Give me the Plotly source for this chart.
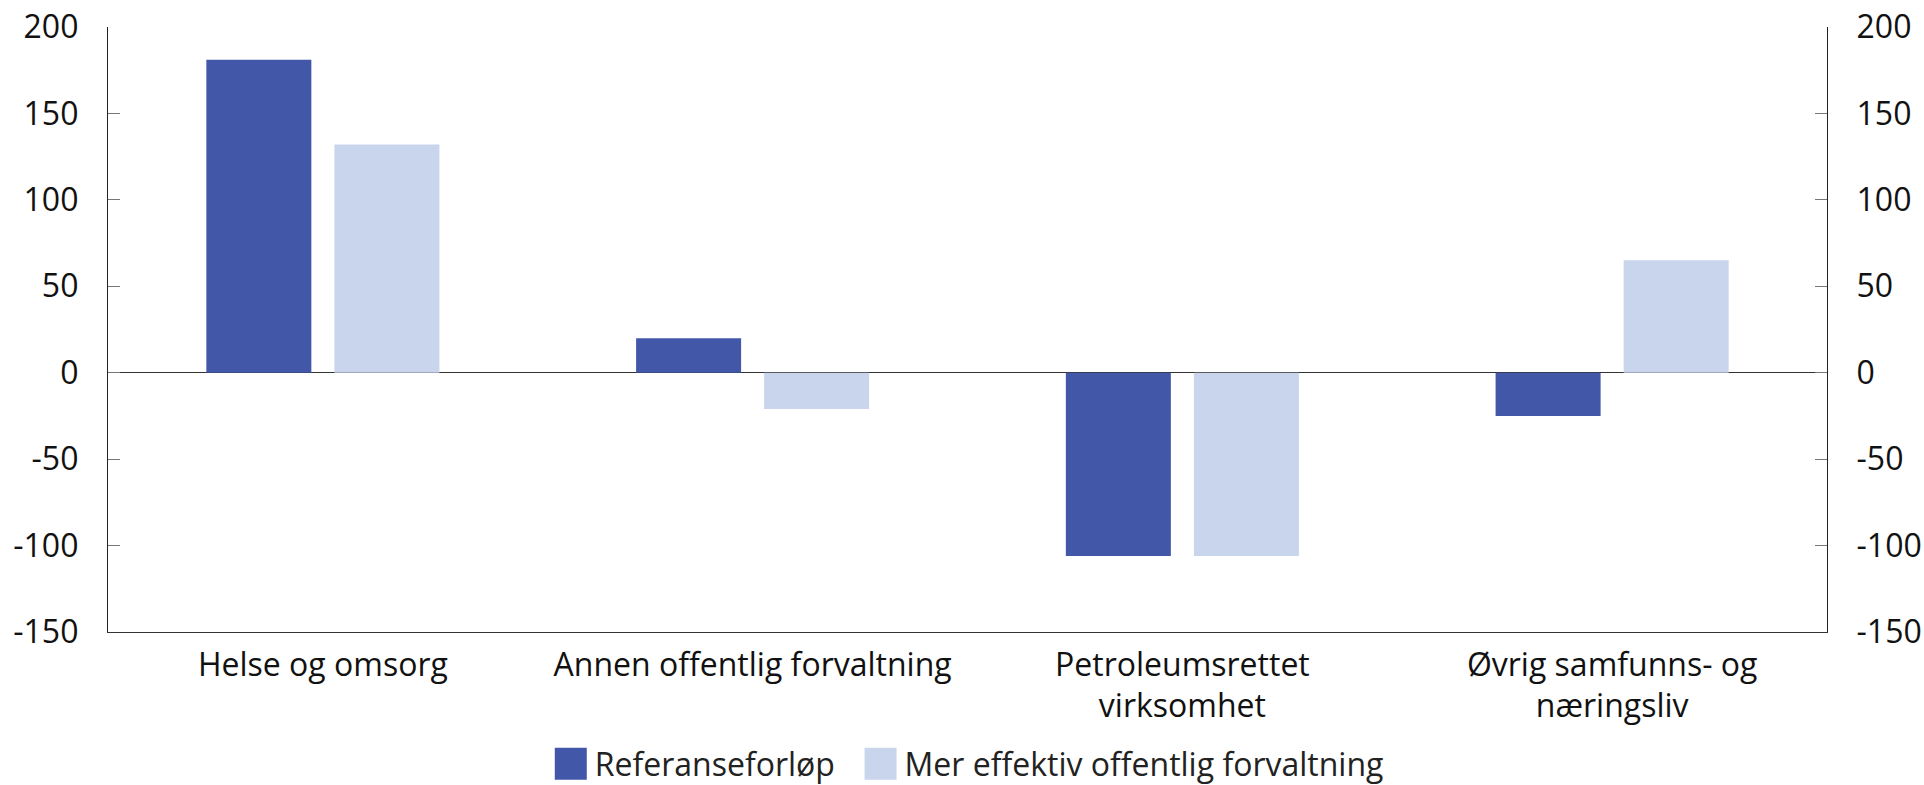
import plotly.graph_objects as go

categories = [
    "Helse og omsorg",
    "Annen offentlig forvaltning",
    "Petroleumsrettet<br>virksomhet",
    "Øvrig samfunns- og<br>næringsliv",
]
referanse = [181, 20, -106, -25]
mer_effektiv = [132, -21, -106, 65]

series_names = ["Referanseforløp", "Mer effektiv offentlig forvaltning"]
y_ticks = [-150, -100, -50, 0, 50, 100, 150, 200]
y_ticktext = [str(v) for v in y_ticks]  # plain hyphen minus, as in the original

DARK = "#4257A7"
LIGHT = "#C9D5EC"
FONT = "Open Sans"
FONT_SIZE = 32
PAD = "\u00a0\u00a0"  # a little extra room between the legend entries

fig = go.Figure()
for values, name, color, pad in [(referanse, series_names[0], DARK, PAD),
                                 (mer_effektiv, series_names[1], LIGHT, "")]:
    fig.add_trace(go.Bar(x=categories, y=values, name=name, showlegend=False,
                         marker=dict(color=color, line=dict(width=0))))
    # legend-only entry, its square is enlarged in the page script below
    fig.add_trace(go.Scatter(x=[None], y=[None], name=name + pad, mode="markers",
                             hoverinfo="skip",
                             marker=dict(symbol="square", size=16, color=color,
                                         line=dict(width=0))))

# invisible trace to carry the right-hand axis
fig.add_trace(go.Scatter(x=categories, y=[None] * len(categories), yaxis="y2",
                         showlegend=False, hoverinfo="skip"))

yaxis_common = dict(
    range=[-150, 200],
    tickvals=y_ticks,
    ticktext=y_ticktext,
    showgrid=False,
    showline=True,
    linecolor="#222222",
    linewidth=1.3,
    ticks="inside",
    ticklen=12,
    tickwidth=1.3,
    tickcolor="#777777",
    ticklabelstandoff=22,
    ticklabeloverflow="allow",
    automargin=False,
    tickfont=dict(family=FONT, size=FONT_SIZE, color="#111111"),
)

fig.update_layout(
    width=1924,
    height=785,
    margin=dict(l=108, r=97, t=27, b=153),
    paper_bgcolor="white",
    plot_bgcolor="white",
    barmode="group",
    bargap=0.404,
    bargroupgap=0.18,
    font=dict(family=FONT, size=FONT_SIZE, color="#111111"),
    xaxis=dict(
        showgrid=False,
        showline=True,
        linecolor="#333333",
        linewidth=1.3,
        ticks="",
        automargin=False,
        ticklabelstandoff=4,
        tickfont=dict(family=FONT, size=FONT_SIZE, color="#111111"),
    ),
    yaxis=dict(**yaxis_common, side="left", zeroline=True,
               zerolinecolor="#333333", zerolinewidth=1.3),
    yaxis2=dict(**yaxis_common, side="right", overlaying="y", zeroline=False),
    legend=dict(
        orientation="h",
        x=0.503,
        xanchor="center",
        xref="container",
        y=(785 - 764) / 785,
        yanchor="middle",
        yref="container",
        font=dict(family=FONT, size=FONT_SIZE, color="#222222"),
        itemsizing="trace",
        itemwidth=38,
    ),
    showlegend=True,
)

# drop the default 8px page margin and double the legend squares (16px -> 32px)
post = """
document.body.style.margin = '0';
document.querySelectorAll('.legend .legendpoints path.scatterpts').forEach(function (p) {
    var t = p.getAttribute('transform') || '';
    p.setAttribute('transform', t + ' scale(2)');
});
"""

fig.write_html("out.html", post_script=post, config={"displayModeBar": False})
